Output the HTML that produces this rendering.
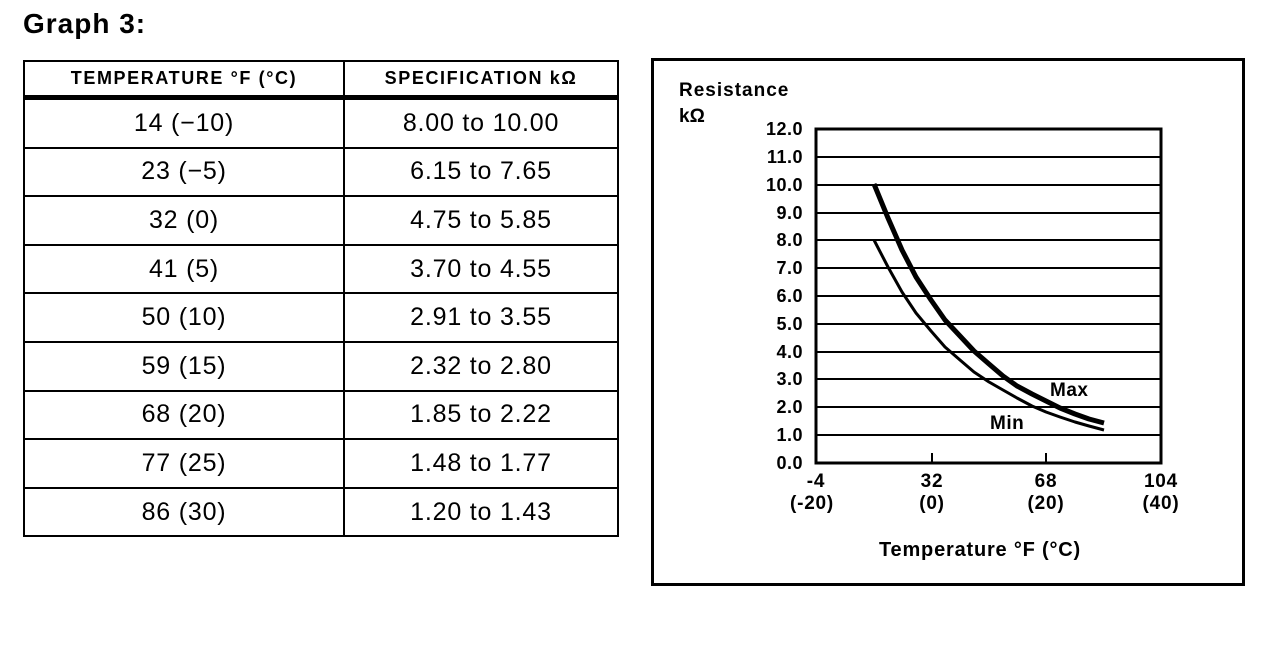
<!DOCTYPE html>
<html><head><style>
body{margin:0;width:1280px;height:658px;background:#fff;font-family:"Liberation Sans",sans-serif;position:relative;overflow:hidden}
.t{position:absolute;left:23px;top:8px;font-weight:bold;font-size:28px;letter-spacing:1px}
table{position:absolute;left:23px;top:60px;border-collapse:collapse;width:596px}
td{border:2px solid #000;text-align:center;font-size:25px;letter-spacing:0.8px;height:46.6px;padding:0}
th{border:2px solid #000;border-bottom:5px solid #000;font-size:18px;letter-spacing:1.6px;height:33px;padding:0}
td:first-child,th:first-child{width:318px}
</style></head><body>
<div class="t">Graph 3:</div>
<table>
<tr><th>TEMPERATURE °F (°C)</th><th>SPECIFICATION kΩ</th></tr>
<tr><td>14 (−10)</td><td>8.00 to 10.00</td></tr>
<tr><td>23 (−5)</td><td>6.15 to 7.65</td></tr>
<tr><td>32 (0)</td><td>4.75 to 5.85</td></tr>
<tr><td>41 (5)</td><td>3.70 to 4.55</td></tr>
<tr><td>50 (10)</td><td>2.91 to 3.55</td></tr>
<tr><td>59 (15)</td><td>2.32 to 2.80</td></tr>
<tr><td>68 (20)</td><td>1.85 to 2.22</td></tr>
<tr><td>77 (25)</td><td>1.48 to 1.77</td></tr>
<tr><td>86 (30)</td><td>1.20 to 1.43</td></tr>
</table>
<svg width="1280" height="658" style="position:absolute;left:0;top:0" font-family="Liberation Sans" font-weight="bold">
<rect x="652.5" y="59.5" width="591" height="525" fill="none" stroke="#000" stroke-width="3"/>
<text x="679" y="96" font-size="19" letter-spacing="1">Resistance</text>
<text x="679" y="122" font-size="19">kΩ</text>
<g stroke="#000" stroke-width="2">
<line x1="816" x2="1161" y1="157" y2="157"/><line x1="816" x2="1161" y1="185" y2="185"/>
<line x1="816" x2="1161" y1="213" y2="213"/><line x1="816" x2="1161" y1="240" y2="240"/>
<line x1="816" x2="1161" y1="268" y2="268"/><line x1="816" x2="1161" y1="296" y2="296"/>
<line x1="816" x2="1161" y1="324" y2="324"/><line x1="816" x2="1161" y1="352" y2="352"/>
<line x1="816" x2="1161" y1="379" y2="379"/><line x1="816" x2="1161" y1="407" y2="407"/>
<line x1="816" x2="1161" y1="435" y2="435"/>
<line x1="932" x2="932" y1="463" y2="453"/><line x1="1046" x2="1046" y1="463" y2="453"/>
</g>
<rect x="816" y="129" width="345" height="334" fill="none" stroke="#000" stroke-width="3"/>
<g font-size="18" text-anchor="end" letter-spacing="0.5">
<text x="803" y="135">12.0</text><text x="803" y="163">11.0</text><text x="803" y="191">10.0</text>
<text x="803" y="219">9.0</text><text x="803" y="246">8.0</text><text x="803" y="274">7.0</text>
<text x="803" y="302">6.0</text><text x="803" y="330">5.0</text><text x="803" y="358">4.0</text>
<text x="803" y="385">3.0</text><text x="803" y="413">2.0</text><text x="803" y="441">1.0</text>
<text x="803" y="469">0.0</text>
</g>
<g font-size="19" text-anchor="middle" letter-spacing="0.8">
<text x="816" y="487">-4</text><text x="812" y="509">(-20)</text>
<text x="932" y="487">32</text><text x="932" y="509">(0)</text>
<text x="1046" y="487">68</text><text x="1046" y="509">(20)</text>
<text x="1161" y="487">104</text><text x="1161" y="509">(40)</text>
<text x="980" y="556" font-size="20" letter-spacing="0.8">Temperature °F (°C)</text>
</g>
<polyline fill="none" stroke="#000" stroke-width="5" stroke-linejoin="round" points="874,184 888,218 902,250 916,277 931,300 945,320 960,336 974,351 989,364 1003,376 1017,386 1032,394 1046,401 1060,408 1075,414 1089,419 1104,423"/>
<polyline fill="none" stroke="#000" stroke-width="3" stroke-linejoin="round" points="874,240 888,267 902,292 916,313 931,331 945,347 960,360 974,372 989,382 1003,390 1017,398 1032,406 1046,412 1060,417 1075,422 1089,426 1104,430"/>
<text x="1050" y="396" font-size="19" letter-spacing="0.5">Max</text>
<text x="990" y="429" font-size="19" letter-spacing="0.5">Min</text>
</svg>
</body></html>
